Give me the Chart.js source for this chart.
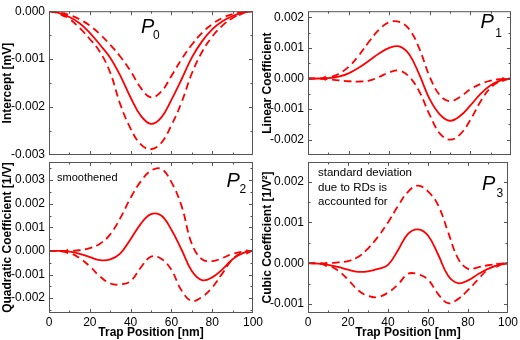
<!DOCTYPE html>
<html>
<head>
<meta charset="utf-8">
<script src="https://cdn.jsdelivr.net/npm/chart.js@4.4.1/dist/chart.umd.min.js"></script>
<style>
  body { margin: 0; background: #fff; }
  #wrap { position: relative; width: 520px; height: 340px; overflow: hidden; font-family: Arial, "Liberation Sans", sans-serif; }
  canvas { position: absolute; left: 0; top: 0; }
  .lbl { position: absolute; white-space: nowrap; color: #000; }
  .P { font-size: 20px; line-height: 20px; font-style: italic; }
  .sub { font-size: 12px; line-height: 12px; }
  .note { font-size: 11px; line-height: 11px; }
  .note3 { font-size: 11.5px; line-height: 14.5px; }
</style>
</head>
<body>
<div id="wrap">
  <canvas id="c0" width="520" height="340"></canvas>
  <canvas id="c1" width="520" height="340"></canvas>
  <canvas id="c2" width="520" height="340"></canvas>
  <canvas id="c3" width="520" height="340"></canvas>

  <div class="lbl P" style="left:141px;top:15.8px">P</div><div class="lbl sub" style="left:153px;top:29.1px">0</div>
  <div class="lbl P" style="left:480.5px;top:11.4px">P</div><div class="lbl sub" style="left:495.3px;top:26.8px">1</div>
  <div class="lbl P" style="left:226.5px;top:169.8px">P</div><div class="lbl sub" style="left:239.5px;top:182.8px">2</div>
  <div class="lbl P" style="left:482px;top:173.1px">P</div><div class="lbl sub" style="left:496.5px;top:186.8px">3</div>

  <div class="lbl note" style="left:57px;top:171.7px">smoothened</div>
  <div class="lbl note3" style="left:318px;top:165.3px">standard deviation<br>due to RDs is<br>accounted for</div>
</div>

<script>
// trap position [nm]
const trapPos = [0, 5, 10, 15, 20, 25, 30, 35, 40, 45, 50, 55, 60, 65, 70, 75, 80, 85, 90, 95, 100];

// P0 - intercept [mV]
const intercept   = [0, -0.00004, -0.00012, -0.00025, -0.00045, -0.00070, -0.00097, -0.00135, -0.00180, -0.00218, -0.00235, -0.00222, -0.00185, -0.00142, -0.00097, -0.00063, -0.00038, -0.00021, -0.00010, -0.00003, 0];
const interceptHi = [0, -0.00003, -0.00008, -0.00017, -0.00030, -0.00048, -0.00070, -0.00095, -0.00125, -0.00160, -0.00180, -0.00168, -0.00135, -0.00100, -0.00070, -0.00045, -0.00027, -0.00014, -0.00006, -0.00002, 0];
const interceptLo = [0, -0.00005, -0.00016, -0.00035, -0.00058, -0.00085, -0.00128, -0.00195, -0.00245, -0.00278, -0.00288, -0.00275, -0.00238, -0.00190, -0.00130, -0.00085, -0.00053, -0.00030, -0.00014, -0.00004, 0];
const interceptMarkX = [7, 94];
const interceptMarkY = [-0.00008, -0.00005];

// P1 - linear coefficient
const linear   = [0, 0, 0.00001, 0.00006, 0.00017, 0.00035, 0.00058, 0.00082, 0.00100, 0.00105, 0.00078, 0.00010, -0.00068, -0.00118, -0.00138, -0.00122, -0.00088, -0.00050, -0.00022, -0.00006, 0];
const linearHi = [0, 0, 0.00003, 0.00015, 0.00038, 0.00075, 0.00120, 0.00160, 0.00184, 0.00185, 0.00160, 0.00095, 0.00005, -0.00055, -0.00074, -0.00060, -0.00035, -0.00018, -0.00007, -0.00002, 0];
const linearLo = [0, 0, -0.00002, -0.00006, -0.00009, -0.00010, -0.00007, 0.00005, 0.00020, 0.00026, 0.00005, -0.00045, -0.00120, -0.00180, -0.00200, -0.00182, -0.00135, -0.00075, -0.00030, -0.00008, 0];
const linearMarkX = [8, 96.5];
const linearMarkY = [0.00001, -0.00003];

// P2 - quadratic coefficient [1/V]
const quad   = [0, 0, -0.00003, -0.00012, -0.00026, -0.00039, -0.00036, -0.00010, 0.00050, 0.00115, 0.00156, 0.00150, 0.00090, 0.00005, -0.00085, -0.00124, -0.00112, -0.00078, -0.00035, -0.00009, 0];
const quadHi = [0, 0, 0, 0.00003, 0.00012, 0.00031, 0.00070, 0.00140, 0.00225, 0.00295, 0.00340, 0.00348, 0.00292, 0.00190, 0.00030, -0.00035, -0.00043, -0.00030, -0.00012, -0.00003, 0];
const quadLo = [0, -0.00001, -0.00008, -0.00030, -0.00065, -0.00108, -0.00138, -0.00142, -0.00128, -0.00070, -0.00024, -0.00033, -0.00080, -0.00168, -0.00212, -0.00195, -0.00155, -0.00095, -0.00035, -0.00006, 0];
const quadMarkX = [8.5, 97.5];
const quadMarkY = [-0.00002, -0.00004];

// P3 - cubic coefficient [1/V^2]
const cubic   = [0, -0.00001, -0.00004, -0.00009, -0.00016, -0.00021, -0.00020, -0.00014, -0.00004, 0.00032, 0.00072, 0.00083, 0.00068, 0.00022, -0.00030, -0.00049, -0.00042, -0.00027, -0.00014, -0.00005, 0];
const cubicHi = [0, 0, 0, 0.00002, 0.00005, 0.00015, 0.00036, 0.00065, 0.00100, 0.00140, 0.00175, 0.00190, 0.00176, 0.00143, 0.00077, 0.00012, -0.00014, -0.00010, -0.00005, -0.00002, 0];
const cubicLo = [0, -0.00001, -0.00005, -0.00018, -0.00040, -0.00066, -0.00080, -0.00083, -0.00072, -0.00052, -0.00026, -0.00027, -0.00040, -0.00075, -0.00098, -0.00088, -0.00066, -0.00040, -0.00015, -0.00004, 0];
const cubicMarkX = [8.5, 95];
const cubicMarkY = [-0.00003, -0.00005];

const RED = '#ff0000';
Chart.defaults.font.family = 'Arial, "Liberation Sans", sans-serif';
Chart.defaults.color = '#000';

// closed frame with inward ticks on all four sides
const frameTicks = {
  id: 'frameTicks',
  afterDatasetsDraw(chart) {
    const { ctx, chartArea: a, scales: { x, y } } = chart;
    ctx.save();
    ctx.strokeStyle = '#555';
    ctx.lineWidth = 1;
    ctx.strokeRect(a.left + 0.5, a.top + 0.5, a.right - a.left - 1, a.bottom - a.top - 1);
    ctx.beginPath();
    for (let k = 1; k < 10; k++) {
      const px = Math.round(x.getPixelForValue(k * 10)) + 0.5;
      const len = k % 2 === 0 ? 4 : 2.5;
      ctx.moveTo(px, a.bottom); ctx.lineTo(px, a.bottom - len);
      ctx.moveTo(px, a.top); ctx.lineTo(px, a.top + len);
    }
    const step = 0.0005;
    for (let k = Math.ceil(y.min / step); k <= Math.floor(y.max / step); k++) {
      const py = Math.round(y.getPixelForValue(k * step)) + 0.5;
      if (py < a.top + 2 || py > a.bottom - 2) continue;
      const len = k % 2 === 0 ? 4 : 2.5;
      ctx.moveTo(a.left, py); ctx.lineTo(a.left + len, py);
      ctx.moveTo(a.right, py); ctx.lineTo(a.right - len, py);
    }
    ctx.stroke();
    ctx.restore();
  }
};

function curve(data, dashed) {
  return {
    data: data,
    borderColor: RED,
    borderWidth: 1.8,
    borderDash: dashed ? [7.5, 4.5] : [],
    pointRadius: 0,
    tension: 0.4,
    fill: false
  };
}

function marks(xs, ys) {
  return {
    data: xs.map((v, i) => ({ x: v, y: ys[i] })),
    showLine: false,
    pointStyle: 'triangle',
    pointRadius: 3.2,
    pointRotation: [270, 90],
    pointBackgroundColor: RED,
    pointBorderColor: RED,
    pointBorderWidth: 0
  };
}

function makePanel(id, p) {
  return new Chart(document.getElementById(id), {
    type: 'line',
    data: {
      labels: trapPos,
      datasets: [curve(p.hi, true), curve(p.mean, false), curve(p.lo, true), marks(p.markX, p.markY)]
    },
    options: {
      responsive: false,
      animation: false,
      layout: { autoPadding: false, padding: p.pad },
      plugins: { legend: { display: false }, tooltip: { enabled: false } },
      scales: {
        x: {
          type: 'linear',
          min: 0,
          max: 100,
          grid: { display: false, drawTicks: false },
          border: { display: false },
          ticks: { display: p.bottom, stepSize: 20, padding: 2, font: { size: 12 } },
          title: { display: p.bottom, text: 'Trap Position [nm]', font: { size: 12, weight: 'bold' }, padding: { top: 0, bottom: 0 } },
          afterFit: s => { s.height = p.bottom ? 27 : 0; }
        },
        y: {
          min: p.yMin,
          max: p.yMax,
          grid: { display: false, drawTicks: false },
          border: { display: false },
          ticks: {
            stepSize: 0.001,
            includeBounds: false,
            padding: 4,
            font: { size: 12 },
            callback: v => (Math.abs(v) < 1e-9 ? 0 : v).toFixed(3)
          },
          title: { display: true, text: p.yTitle, font: { size: 12, weight: 'bold' }, padding: { top: 0, bottom: 0 } },
          afterFit: s => { s.width = p.yWidth; }
        }
      }
    },
    plugins: [frameTicks]
  });
}

makePanel('c0', {
  mean: intercept, hi: interceptHi, lo: interceptLo, markX: interceptMarkX, markY: interceptMarkY,
  yMin: -0.003, yMax: 0, yTitle: 'Intercept [mV]', yWidth: 49, bottom: false,
  pad: { left: 0, top: 5, right: 267, bottom: 185 }
});
makePanel('c1', {
  mean: linear, hi: linearHi, lo: linearLo, markX: linearMarkX, markY: linearMarkY,
  yMin: -0.0025, yMax: 0.0022, yTitle: 'Linear Coefficient', yWidth: 48, bottom: false,
  pad: { left: 260, top: 5, right: 9, bottom: 185 }
});
makePanel('c2', {
  mean: quad, hi: quadHi, lo: quadLo, markX: quadMarkX, markY: quadMarkY,
  yMin: -0.00263, yMax: 0.00377, yTitle: 'Quadratic Coefficient [1/V]', yWidth: 49, bottom: true,
  pad: { left: 0, top: 162, right: 267, bottom: 0 }
});
makePanel('c3', {
  mean: cubic, hi: cubicHi, lo: cubicLo, markX: cubicMarkX, markY: cubicMarkY,
  yMin: -0.00122, yMax: 0.00248, yTitle: 'Cubic Coefficient [1/V²]', yWidth: 48, bottom: true,
  pad: { left: 260, top: 162, right: 9, bottom: 0 }
});
</script>
</body>
</html>
